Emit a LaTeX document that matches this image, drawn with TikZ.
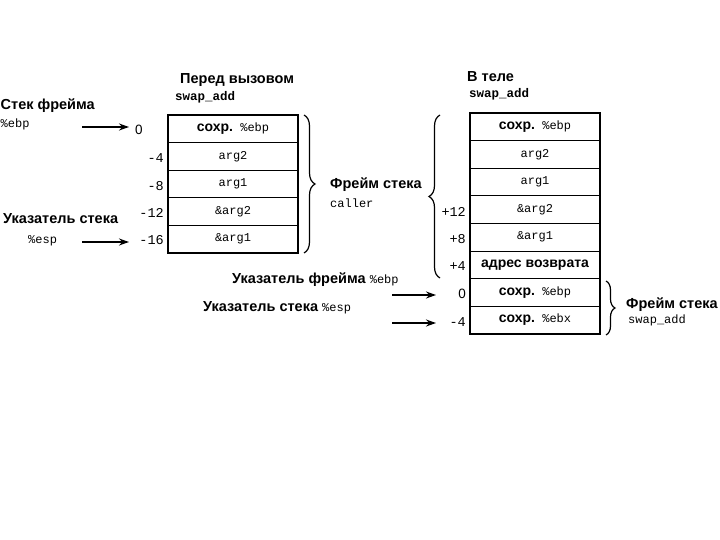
\documentclass[tikz,border=0pt]{standalone}
\usepackage{fontspec}
\setmainfont{Liberation Sans}
\setmonofont{Liberation Mono}
\usetikzlibrary{arrows.meta,decorations.pathreplacing}
\tikzset{
  txt/.style={font=\bfseries\fontsize{14.5}{16}\selectfont, inner sep=0pt},
  code/.style={font=\ttfamily\fontsize{12}{14}\selectfont, inner sep=0pt},
  codeb/.style={font=\ttfamily\bfseries\fontsize{12.5}{14}\selectfont, inner sep=0pt},
  num/.style={font=\ttfamily\fontsize{13.5}{15}\selectfont, inner sep=0pt, anchor=east},
  zero/.style={font=\fontsize{13.5}{15}\selectfont, inner sep=0pt},
  cell/.style={draw, line width=0.9pt, minimum width=130pt, minimum height=27.6pt,
    inner sep=0pt, outer sep=0pt, anchor=north, font=\ttfamily\fontsize{12}{14}\selectfont},
  frame/.style={line width=2pt},
  ptr/.style={line width=1.5pt, -{Stealth[length=10pt,width=7pt]}},
  brc/.style={line width=1.2pt, decorate, decoration={brace, amplitude=#1}},
}
\newcommand{\sx}[1]{{\rmfamily\bfseries\fontsize{14}{16}\selectfont #1}}
\begin{document}
\begin{tikzpicture}[x=1pt,y=-1pt]
\useasboundingbox (0,0) rectangle (720,540);
% ---------- left stack ----------
\node[txt, anchor=west] (t1) at (180,80) {Перед вызовом};
\node[codeb, anchor=west] (t1b) at (175,97) {swap\_add};
\node[cell] (L1) at (233,115) {\sx{сохр.} \%ebp};
\node[cell] (L2) at (L1.south) {arg2};
\node[cell] (L3) at (L2.south) {arg1};
\node[cell] (L4) at (L3.south) {\&arg2};
\node[cell] (L5) at (L4.south) {\&arg1};
\draw[frame] (L1.north west) rectangle (L5.south east);
\node[zero] (l0) at (139,130) {0};
\node[num] (lm4) at (164,158) {-4};
\node[num] (lm8) at (164,186) {-8};
\node[num] (lm12) at (164,213) {-12};
\node[num] (lm16) at (164,240) {-16};
\node[txt, anchor=west] (fp) at (0.5,106) {Стек фрейма};
\node[code, anchor=west] (fpr) at (0.5,124) {\%ebp};
\node[txt, anchor=west] (sp) at (3,219) {Указатель стека};
\node[code, anchor=west] (spr) at (28,241) {\%esp};
\coordinate (a1s) at (82,127);
\coordinate (a1e) at (129,127);
\draw[ptr] (a1s) -- (a1e);
\coordinate (a2s) at (82,242);
\coordinate (a2e) at (129,242);
\draw[ptr] (a2s) -- (a2e);
\coordinate (b1a) at (304,115);
\coordinate (b1b) at (304,253);
\draw[brc=11pt] (b1a) -- (b1b);
\node[txt, anchor=west] (cf) at (330,185) {Фрейм стека};
\node[code, anchor=west] (cfc) at (330,203) {caller};
% ---------- right stack ----------
\node[txt, anchor=west] (t2) at (467,77) {В теле};
\node[codeb, anchor=west] (t2b) at (469,94) {swap\_add};
\node[cell] (R1) at (535,113) {\sx{сохр.} \%ebp};
\node[cell] (R2) at (R1.south) {arg2};
\node[cell] (R3) at (R2.south) {arg1};
\node[cell] (R4) at (R3.south) {\&arg2};
\node[cell] (R5) at (R4.south) {\&arg1};
\node[cell] (R6) at (R5.south) {\sx{адрес возврата}};
\node[cell] (R7) at (R6.south) {\sx{сохр.} \%ebp};
\node[cell] (R8) at (R7.south) {\sx{сохр.} \%ebx};
\draw[frame] (R1.north west) rectangle (R8.south east);
\node[num] (rp12) at (466,212) {+12};
\node[num] (rp8) at (466,239) {+8};
\node[num] (rp4) at (466,266) {+4};
\node[zero, anchor=east] (r0) at (466,294) {0};
\node[num] (rm4) at (466,322) {-4};
\node[txt, anchor=west] (rfp) at (232,280) {Указатель фрейма \texttt{\fontsize{12}{14}\selectfont\mdseries\%ebp}};
\node[txt, anchor=west] (rsp) at (203,308) {Указатель стека \texttt{\fontsize{12}{14}\selectfont\mdseries\%esp}};
\coordinate (a3s) at (392,295);
\coordinate (a3e) at (436,295);
\draw[ptr] (a3s) -- (a3e);
\coordinate (a4s) at (392,323);
\coordinate (a4e) at (436,323);
\draw[ptr] (a4s) -- (a4e);
\coordinate (b2a) at (440,278);
\coordinate (b2b) at (440,115);
\draw[brc=11pt] (b2a) -- (b2b);
\coordinate (b3a) at (606,281);
\coordinate (b3b) at (606,335);
\draw[brc=9pt] (b3a) -- (b3b);
\node[txt, anchor=west] (sf) at (626,305) {Фрейм стека};
\node[code, anchor=west] (sfc) at (628,320) {swap\_add};
\end{tikzpicture}
\end{document}
